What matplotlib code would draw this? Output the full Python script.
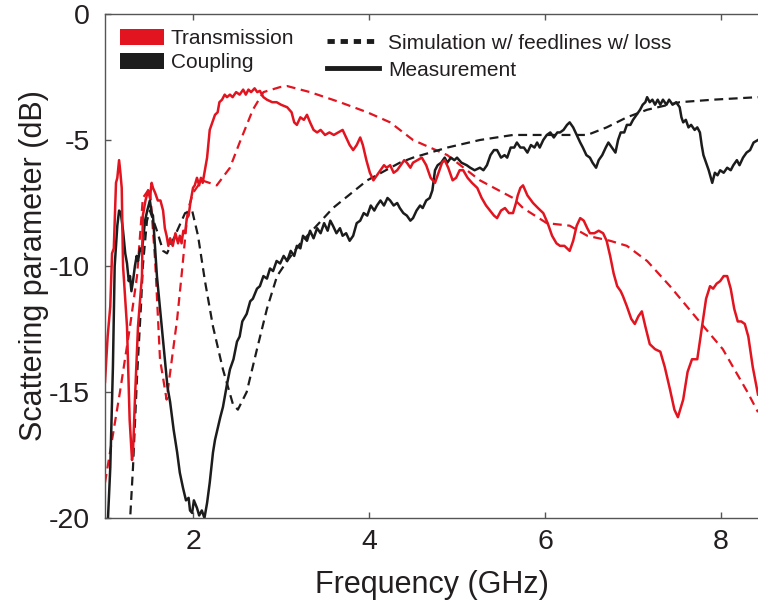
import matplotlib
matplotlib.use("Agg")
import matplotlib.pyplot as plt
from matplotlib.patches import Patch
from matplotlib.lines import Line2D

plt.rcParams['font.family'] = ['Liberation Sans', 'DejaVu Sans']

RED = '#E2141F'
BLACK = '#1c1c1c'
TEXT = '#231f20'

# Measured transmission (GHz, dB)
trans_meas_f = [1.0, 1.03, 1.06, 1.08, 1.1, 1.125, 1.14, 1.16, 1.175, 1.19, 1.205, 1.25, 1.28,
                1.307, 1.318, 1.34, 1.375, 1.42, 1.43, 1.46, 1.49, 1.51, 1.53, 1.545, 1.57,
                1.6, 1.63, 1.66, 1.68, 1.7, 1.72, 1.74, 1.77, 1.8, 1.83, 1.85, 1.87, 1.89,
                1.91, 1.93, 1.95, 1.97, 2.0, 2.02, 2.045, 2.07, 2.09, 2.11, 2.13, 2.16, 2.19,
                2.22, 2.25, 2.28, 2.3, 2.33, 2.36, 2.386, 2.42, 2.45, 2.49, 2.53, 2.57, 2.6,
                2.63, 2.66, 2.70, 2.73, 2.76, 2.8, 2.84, 2.9, 2.95, 3.0, 3.07, 3.12, 3.15,
                3.18, 3.22, 3.26, 3.295, 3.33, 3.37, 3.41, 3.45, 3.5, 3.55, 3.6, 3.65, 3.70,
                3.74, 3.78, 3.82, 3.86, 3.9, 3.93, 3.97, 4.01, 4.05, 4.09, 4.13, 4.17, 4.2,
                4.24, 4.28, 4.32, 4.36, 4.4, 4.43, 4.47, 4.5, 4.55, 4.6, 4.65, 4.7, 4.75,
                4.79, 4.83, 4.86, 4.9, 4.95, 4.99, 5.03, 5.07, 5.12, 5.17, 5.23, 5.28, 5.33,
                5.375, 5.42, 5.455, 5.5, 5.545, 5.59, 5.636, 5.67, 5.69, 5.72, 5.75, 5.8,
                5.864, 5.92, 5.98, 6.03, 6.08, 6.13, 6.17, 6.22, 6.28, 6.32, 6.36, 6.4, 6.44,
                6.48, 6.51, 6.56, 6.61, 6.66, 6.7, 6.74, 6.78, 6.82, 6.86, 6.886, 6.93, 6.98,
                7.02, 7.06, 7.1, 7.14, 7.19, 7.25, 7.31, 7.36, 7.42, 7.47, 7.51, 7.57, 7.62,
                7.67, 7.73, 7.78, 7.83, 7.875, 7.91, 7.95, 7.99, 8.03, 8.07, 8.11, 8.15, 8.19,
                8.23, 8.27, 8.31, 8.36, 8.42]
trans_meas_db = [-14.6, -12.8, -11.6, -9.5, -9.3, -6.7, -6.5, -5.8, -6.3, -6.9, -10.0, -12.4, -16.1,
                 -17.7, -17.4, -15.3, -12.4, -10.4, -8.0, -7.4, -7.0, -7.3, -6.7, -6.9, -7.1,
                 -7.4, -7.4, -7.8, -8.5, -8.8, -9.2, -8.9, -9.2, -8.7, -9.1, -8.8, -9.1, -8.6,
                 -8.7, -8.1, -8.0, -7.5, -6.9, -6.8, -6.5, -6.8, -6.5, -6.7, -6.3, -5.7, -4.6,
                 -4.3, -4.0, -3.9, -3.5, -3.4, -3.2, -3.3, -3.2, -3.3, -3.1, -3.2, -3.0, -3.2,
                 -3.0, -3.1, -2.95, -3.1, -3.05, -3.3, -3.4, -3.5, -3.5, -3.6, -3.7, -3.9, -4.3,
                 -4.4, -4.1, -4.2, -4.0, -4.3, -4.6, -4.7, -4.6, -4.8, -4.7, -4.8, -4.7, -4.6,
                 -4.9, -5.2, -5.4, -5.2, -4.9, -5.2, -5.8, -6.3, -6.6, -6.4, -6.2, -6.0, -6.1,
                 -6.0, -6.3, -6.2, -6.0, -5.8, -5.9, -6.1, -5.9, -5.8, -5.7, -6.0, -6.5, -6.7,
                 -6.3, -5.9, -5.8, -6.1, -6.6, -6.5, -6.2, -6.2, -6.5, -6.7, -6.9, -7.3, -7.6,
                 -7.8, -8.0, -8.1, -7.8, -7.7, -7.9, -7.9, -7.5, -7.2, -6.9, -6.8, -7.2,
                 -7.5, -7.7, -7.9, -8.3, -8.8, -9.1, -9.2, -9.2, -9.4, -9.0, -8.4, -8.1, -8.2,
                 -8.5, -8.7, -8.7, -8.6, -8.7, -9.0, -9.6, -10.3, -10.8, -11.0, -11.2, -11.6, -12.1,
                 -12.3, -12.0, -11.8, -12.4, -13.1, -13.3, -13.4, -14.0, -14.9, -15.7, -16.0, -15.3, -14.2,
                 -13.7, -13.7, -12.5, -11.3, -10.8, -10.9, -10.7, -10.6, -10.4, -10.4, -10.9, -11.7, -12.2,
                 -12.2, -12.3, -12.8, -14.0, -15.1]

# Simulated transmission
trans_sim_f = [1.0, 1.17, 1.284, 1.364, 1.43, 1.51, 1.57, 1.625, 1.7, 1.76, 1.82, 1.875,
               1.94, 2.0, 2.1, 2.27, 2.42, 2.53, 2.68, 2.8, 2.99, 3.07, 3.33, 3.67, 3.98,
               4.24, 4.5, 4.89, 5.26, 5.636, 5.75, 6.02, 6.28, 6.48, 6.74, 6.93, 7.16, 7.42,
               7.73, 8.02, 8.3, 8.42]
trans_sim_db = [-18.6, -15.0, -12.4, -10.4, -7.3, -6.9, -9.8, -13.7, -15.3, -13.7, -12.1, -10.2,
                -7.8, -7.1, -6.6, -6.8, -6.1, -5.1, -3.8, -3.1, -2.9, -2.86, -3.1, -3.5, -3.9,
                -4.3, -5.0, -5.6, -6.6, -7.3, -7.7, -8.3, -8.4, -8.8, -9.0, -9.2, -9.8, -10.8,
                -12.1, -13.3, -15.0, -15.8]

# Measured coupling
coup_meas_f = [1.034, 1.06, 1.09, 1.11, 1.14, 1.16, 1.18, 1.205, 1.23, 1.25, 1.27, 1.284, 1.30,
               1.318, 1.34, 1.36, 1.375, 1.40, 1.42, 1.44, 1.455, 1.48, 1.51, 1.53, 1.545, 1.57,
               1.59, 1.625, 1.65, 1.68, 1.71, 1.74, 1.78, 1.82, 1.85, 1.886, 1.92, 1.95, 1.966,
               1.99, 2.01, 2.045, 2.07, 2.10, 2.13, 2.16, 2.19, 2.227, 2.25, 2.284, 2.31, 2.34,
               2.36, 2.386, 2.42, 2.46, 2.5, 2.53, 2.56, 2.61, 2.65, 2.68, 2.727, 2.76, 2.80,
               2.84, 2.875, 2.91, 2.95, 2.99, 3.03, 3.07, 3.11, 3.15, 3.18, 3.22, 3.25, 3.295,
               3.33, 3.37, 3.41, 3.45, 3.49, 3.53, 3.56, 3.59, 3.63, 3.67, 3.70, 3.74, 3.78,
               3.82, 3.86, 3.9, 3.94, 3.98, 4.02, 4.06, 4.09, 4.13, 4.17, 4.21, 4.24, 4.28,
               4.32, 4.35, 4.39, 4.43, 4.47, 4.5, 4.54, 4.58, 4.61, 4.65, 4.69, 4.72, 4.75,
               4.78, 4.82, 4.86, 4.89, 4.93, 4.97, 5.0, 5.05, 5.11, 5.15, 5.2, 5.26, 5.3,
               5.34, 5.38, 5.42, 5.455, 5.5, 5.54, 5.57, 5.61, 5.65, 5.68, 5.72, 5.76, 5.8,
               5.84, 5.88, 5.91, 5.94, 5.98, 6.02, 6.06, 6.1, 6.14, 6.17, 6.21, 6.25, 6.28,
               6.32, 6.36, 6.4, 6.43, 6.47, 6.51, 6.54, 6.58, 6.61, 6.65, 6.69, 6.72, 6.76,
               6.8, 6.83, 6.86, 6.9, 6.93, 6.97, 7.0, 7.04, 7.08, 7.11, 7.14, 7.16, 7.19,
               7.22, 7.25, 7.28, 7.31, 7.34, 7.38, 7.41, 7.45, 7.49, 7.53, 7.55, 7.57, 7.6,
               7.63, 7.66, 7.7, 7.73, 7.76, 7.78, 7.8, 7.83, 7.86, 7.9, 7.93, 7.96, 7.99,
               8.03, 8.07, 8.11, 8.14, 8.18, 8.21, 8.25, 8.29, 8.33, 8.37, 8.42]
coup_meas_db = [-20.0, -18.0, -14.0, -10.0, -8.4, -7.8, -7.9, -8.6, -9.5, -9.9, -10.6, -10.4, -11.0,
                -10.6, -10.0, -9.6, -9.8, -9.3, -9.4, -8.7, -8.2, -7.8, -7.4, -7.9, -8.0, -9.3,
                -10.4, -11.7, -12.6, -13.7, -14.8, -15.4, -16.5, -17.4, -18.2, -18.8, -19.3, -19.2, -19.7,
                -19.8, -19.3, -19.6, -19.9, -19.7, -20.0, -19.4, -18.6, -17.4, -16.9, -16.4, -16.0, -15.6,
                -15.2, -14.7, -14.1, -13.7, -13.0, -12.8, -12.2, -11.9, -11.4, -11.3, -10.9, -10.8, -10.4,
                -10.5, -10.1, -10.2, -9.8, -9.9, -9.6, -9.8, -9.4, -9.6, -9.2, -9.3, -8.8, -9.0,
                -8.6, -8.9, -8.5, -8.7, -8.3, -8.6, -8.2, -8.4, -8.7, -8.5, -8.8, -8.7, -9.0,
                -8.8, -8.3, -8.2, -7.9, -8.0, -7.6, -7.8, -7.6, -7.4, -7.6, -7.3, -7.4, -7.6,
                -7.5, -7.7, -7.9, -8.0, -8.2, -8.1, -7.8, -7.6, -7.7, -7.4, -7.3, -7.0, -6.2,
                -6.0, -5.9, -5.7, -5.9, -5.7, -5.8, -5.7, -5.9, -6.0, -6.1, -6.2, -6.1, -6.2,
                -6.0, -5.6, -5.4, -5.4, -5.7, -5.6, -5.7, -5.3, -5.3, -5.1, -5.3, -5.3, -5.5,
                -5.2, -5.3, -5.1, -5.3, -5.0, -4.8, -4.7, -4.9, -4.7, -4.7, -4.6, -4.4, -4.3,
                -4.5, -4.8, -5.1, -5.3, -5.6, -5.7, -5.9, -6.1, -5.8, -5.6, -5.3, -5.1, -5.3,
                -5.5, -5.0, -4.7, -4.7, -4.4, -4.4, -4.2, -4.0, -3.8, -3.6, -3.5, -3.3, -3.5,
                -3.4, -3.6, -3.4, -3.6, -3.4, -3.6, -3.4, -3.6, -3.5, -3.7, -4.1, -4.3, -4.2,
                -4.5, -4.4, -4.6, -4.5, -4.7, -5.2, -5.6, -5.9, -6.2, -6.7, -6.3, -6.4, -6.2,
                -6.3, -6.1, -6.2, -6.0, -5.8, -6.0, -5.7, -5.5, -5.4, -5.1, -5.0]

# Simulated coupling
coup_sim_f = [1.27, 1.318, 1.364, 1.41, 1.43, 1.477, 1.51, 1.59, 1.66, 1.705, 1.82, 1.91,
              1.99, 2.057, 2.136, 2.227, 2.34, 2.455, 2.51, 2.61, 2.727, 2.84, 2.955, 3.07,
              3.22, 3.59, 3.98, 4.35, 4.5, 4.89, 5.26, 5.636, 6.02, 6.25, 6.48, 6.7, 6.93,
              7.16, 7.53, 7.91, 8.42]
coup_sim_db = [-21.0, -18.0, -14.4, -11.5, -10.0, -8.2, -7.8, -8.6, -9.4, -9.5, -8.6, -7.9,
               -7.8, -8.8, -10.6, -12.4, -14.1, -15.5, -15.7, -15.0, -13.3, -11.7, -10.4, -9.8,
               -9.1, -7.7, -6.6, -5.9, -5.7, -5.3, -5.0, -4.8, -4.8, -4.8, -4.8, -4.5, -4.1,
               -3.8, -3.5, -3.4, -3.3]

x_ticks = [2, 4, 6, 8]
y_ticks = [0, -5, -10, -15, -20]

fig = plt.figure(figsize=(7.58, 6.06), dpi=100)
ax = fig.add_axes([105 / 758, 88 / 606, 653 / 758, 504 / 606])

dash = (4, 2.5)
ax.plot(trans_sim_f, trans_sim_db, color=RED, lw=1.6, dashes=dash)
ax.plot(coup_sim_f, coup_sim_db, color=BLACK, lw=1.6, dashes=dash)
ax.plot(coup_meas_f, coup_meas_db, color=BLACK, lw=1.8)
ax.plot(trans_meas_f, trans_meas_db, color=RED, lw=1.8)

ax.set_xlim(1, 8.42)
ax.set_ylim(-20, 0)
ax.set_xticks(x_ticks)
ax.set_yticks(y_ticks)
ax.set_yticklabels([str(v) for v in y_ticks])

for side in ['left', 'bottom', 'top']:
    ax.spines[side].set_color('#555555')
    ax.spines[side].set_linewidth(1.0)
ax.spines['right'].set_visible(False)
ax.tick_params(direction='in', length=4, width=1, color='#555555',
               labelsize=20.5, labelcolor=TEXT, top=True, right=False)
ax.tick_params(axis='x', pad=8)
ax.tick_params(axis='y', pad=11)

ax.set_xlabel('Frequency (GHz)', fontsize=22, color=TEXT, labelpad=11)
ax.set_ylabel('Scattering parameter (dB)', fontsize=22, color=TEXT)
ax.yaxis.set_label_coords(-0.086, 0.5)

h1 = [Patch(facecolor=RED, edgecolor='none'), Patch(facecolor=BLACK, edgecolor='none')]
leg1 = ax.legend(h1, ['Transmission', 'Coupling'], loc='upper left',
                 bbox_to_anchor=(0.0, 1.0), frameon=False, fontsize=15,
                 handlelength=2.15, handleheight=0.8, handletextpad=0.3,
                 labelspacing=0.25, borderaxespad=0.3, labelcolor=TEXT)
ax.add_artist(leg1)

h2 = [Line2D([], [], color=BLACK, lw=3.5, dashes=(1.5, 1.2)),
      Line2D([], [], color=BLACK, lw=3.5)]
ax.legend(h2, ['Simulation w/ feedlines w/ loss', 'Measurement'], loc='upper left',
          bbox_to_anchor=(0.317, 0.99), frameon=False, fontsize=15,
          handlelength=2.5, handletextpad=0.45, labelspacing=0.38,
          borderaxespad=0.3, labelcolor=TEXT)

fig.savefig('out.png', dpi=100)
